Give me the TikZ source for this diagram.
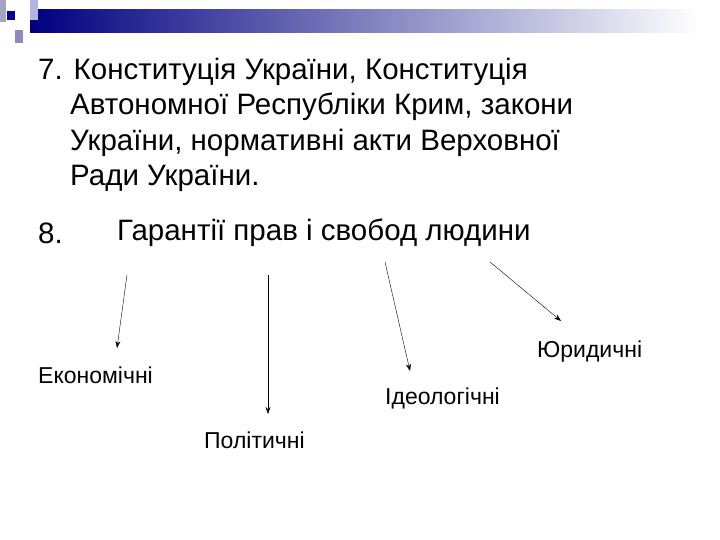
\documentclass[tikz,border=0pt]{standalone}
\usepackage{fontspec}
\usetikzlibrary{arrows.meta}
\setmainfont{Liberation Sans}
\begin{document}
\begin{tikzpicture}[x=1pt,y=-1pt,
 big/.style={anchor=west,font=\fontsize{29.5}{34}\selectfont,inner sep=0},
 lab/.style={anchor=west,font=\fontsize{23}{27}\selectfont,inner sep=0},
 arr/.style={-{Stealth[length=7pt,width=5pt]},thin}]
\useasboundingbox[fill=white] (0,0) rectangle (720,540);
\shade[left color=blue!50!black, right color=white] (30,10) rectangle (700,33);
\fill[blue!20!gray!60] (0,0) rectangle (6,22);
\fill[blue!25!white!80!gray] (30,0) rectangle (38,20);
\fill[blue!30!gray!70] (15,30) rectangle (23,43);
\fill[blue!60!black] (7,11) rectangle (15,20);
\node[big] (l1) at (38,72) {7. Конституція України, Конституція};
\node[big] (l2) at (70,107) {Автономної Республіки Крим, закони};
\node[big] (l3) at (70,143) {України, нормативні акти Верховної};
\node[big] (l4) at (70,178) {Ради України.};
\node[big] (l5) at (38,233) {8.};
\node[big] (l6) at (117,233) {Гарантії прав і свобод людини};
\node[lab] (e) at (38,375) {Економічні};
\node[lab] (p) at (204,440) {Політичні};
\node[lab] (i) at (385,398) {Ідеологічні};
\node[lab] (y) at (537,352) {Юридичні};
\coordinate (a1) at (127,275); \coordinate (a2) at (268,275);
\coordinate (a3) at (385,262); \coordinate (a4) at (490,262);
\coordinate (b1) at (117,348); \coordinate (b2) at (268,414);
\coordinate (b3) at (410,371); \coordinate (b4) at (561,321);
\draw[arr] (a1) -- (b1);
\draw[arr] (a2) -- (b2);
\draw[arr] (a3) -- (b3);
\draw[arr] (a4) -- (b4);
\end{tikzpicture}
\end{document}
